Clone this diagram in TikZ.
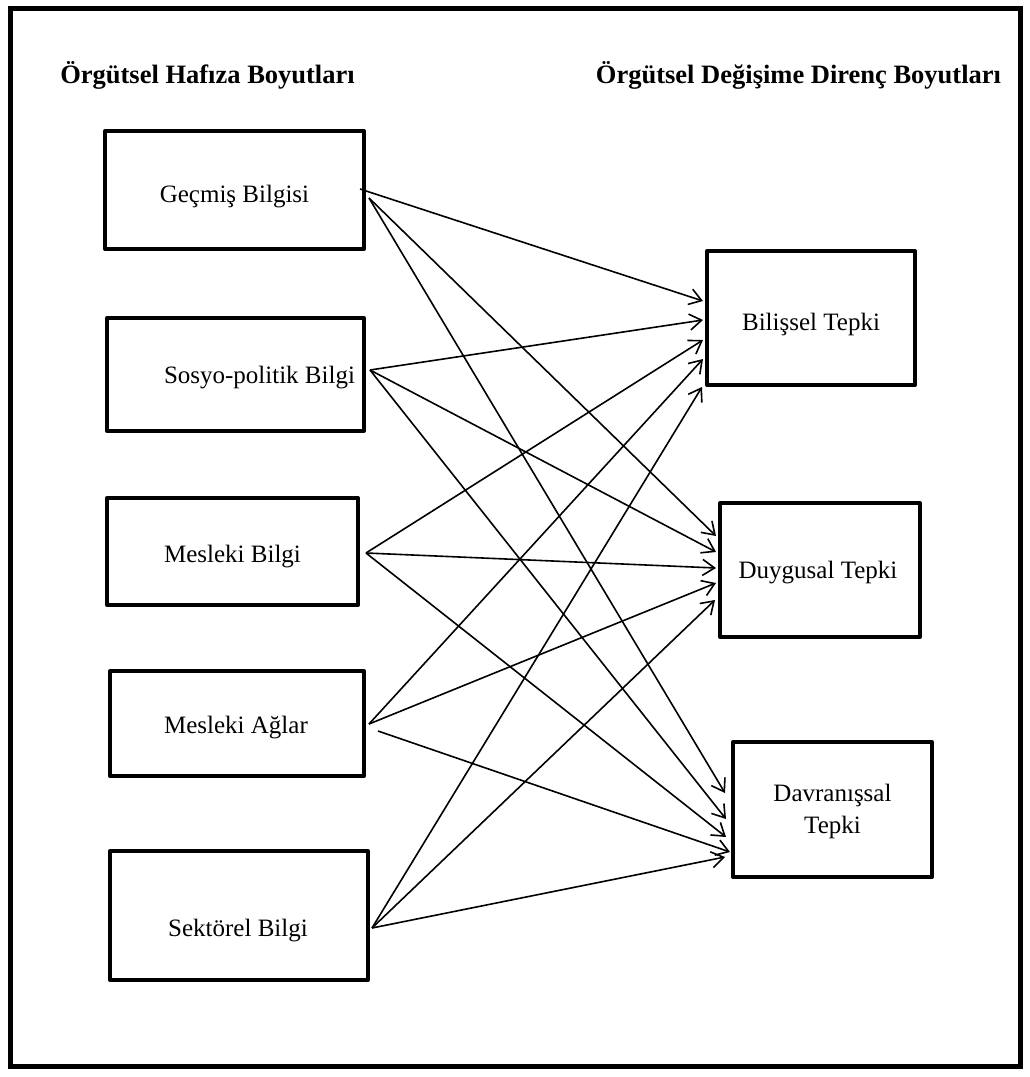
\documentclass[tikz,border=0pt]{standalone}
\usepackage{fontspec}
\setmainfont{Liberation Serif}
\usetikzlibrary{calc,arrows.meta}
\tikzset{
	kutu/.style={draw, line width=4pt, line join=round, rectangle, inner sep=0pt},
	yazi/.style={inner sep=0pt, align=center, font=\fontsize{25}{32}\selectfont},
	ok/.style={line width=1.6pt, -{Straight Barb[length=12pt,width=16pt]}},
	baslik/.style={anchor=base, font=\bfseries\fontsize{26.5}{30}\selectfont}
}

\begin{document}
\begin{tikzpicture}[x=1pt, y=-1pt]
			%%%%% START %%%%%
			
			\useasboundingbox (0, 0) rectangle (1030, 1077);
			\draw[line width=5pt] (10.5, 8.5) rectangle (1020.5, 1066.5);
			
			\node[baslik] (sol) at (207.5, 83) {Örgütsel Hafıza Boyutları};
			\node[baslik] (sag) at (798.5, 83) {Örgütsel Değişime Direnç Boyutları};
			
			% hafiza boyutlari
			\node[kutu, minimum width=259pt, minimum height=118pt] (gecmis) at (234.5, 190) {};
			\node[kutu, minimum width=257pt, minimum height=113pt] (sosyo) at (235.5, 374.5) {};
			\node[kutu, minimum width=251pt, minimum height=107pt] (mbilgi) at (232.5, 551.5) {};
			\node[kutu, minimum width=254pt, minimum height=105pt] (magl) at (237, 723.5) {};
			\node[kutu, minimum width=258pt, minimum height=129pt] (sektor) at (239, 915.5) {};
			
			\node[yazi] (gecmis-t) at ($(gecmis)+(0, 7)$) {Geçmiş Bilgisi};
			\node[yazi] (sosyo-t) at ($(sosyo)+(24, 3)$) {Sosyo-politik Bilgi};
			\node[yazi] (mbilgi-t) at ($(mbilgi)+(0, 5)$) {Mesleki Bilgi};
			\node[yazi] (magl-t) at ($(magl)+(-1, 4)$) {Mesleki Ağlar};
			\node[yazi] (sektor-t) at ($(sektor)+(-1, 15)$) {Sektörel Bilgi};
			
			% direnc boyutlari
			\node[kutu, minimum width=208pt, minimum height=134pt] (bilissel) at (811, 318) {};
			\node[kutu, minimum width=200pt, minimum height=134pt] (duygusal) at (820, 570) {};
			\node[kutu, minimum width=199pt, minimum height=135pt] (davran) at (832.5, 809.5) {};
			
			\node[yazi] (bilissel-t) at ($(bilissel)+(0, 6)$) {Bilişsel Tepki};
			\node[yazi] (duygusal-t) at ($(duygusal)+(-2, 3)$) {Duygusal Tepki};
			\node[yazi] (davran-t) at ($(davran)+(0, 2)$) {Davranışsal\\Tepki};
			
			\draw[ok] ($(gecmis.east)+(-6, -1)$) -- ($(bilissel.west)+(-2, -17)$);
			\draw[ok] ($(gecmis.east)+(3, 8)$) -- ($(duygusal.west)+(-2, -34)$);
			\draw[ok] ($(gecmis.east)+(3, 8)$) -- ($(davran.west)+(-6, -16.5)$);
			
			\draw[ok] ($(sosyo.east)+(4, -4.5)$) -- ($(bilissel.west)+(-2, 2)$);
			\draw[ok] ($(sosyo.east)+(4, -4.5)$) -- ($(duygusal.west)+(-2, -18)$);
			\draw[ok] ($(sosyo.east)+(4, -4.5)$) -- ($(davran.west)+(-5, 9.5)$);
			
			\draw[ok] ($(mbilgi.east)+(6, 1.5)$) -- ($(bilissel.west)+(-2, 22)$);
			\draw[ok] ($(mbilgi.east)+(6, 1.5)$) -- ($(duygusal.west)+(-2, -2)$);
			\draw[ok] ($(mbilgi.east)+(6, 1.5)$) -- ($(davran.west)+(-5, 27.5)$);
			
			\draw[ok] ($(magl.east)+(3, 0.5)$) -- ($(bilissel.west)+(-2, 41)$);
			\draw[ok] ($(magl.east)+(3, 0.5)$) -- ($(duygusal.west)+(-2, 13)$);
			\draw[ok] ($(magl.east)+(12, 7.5)$) -- ($(davran.west)+(-1, 42.5)$);
			
			\draw[ok] ($(sektor.east)+(2, 12.5)$) -- ($(bilissel.west)+(-3, 69)$);
			\draw[ok] ($(sektor.east)+(2, 12.5)$) -- ($(duygusal.west)+(-3, 30)$);
			\draw[ok] ($(sektor.east)+(2, 12.5)$) -- ($(davran.west)+(-6, 47.5)$);
			
			%%%%% END %%%%%
\end{tikzpicture}
\end{document}
